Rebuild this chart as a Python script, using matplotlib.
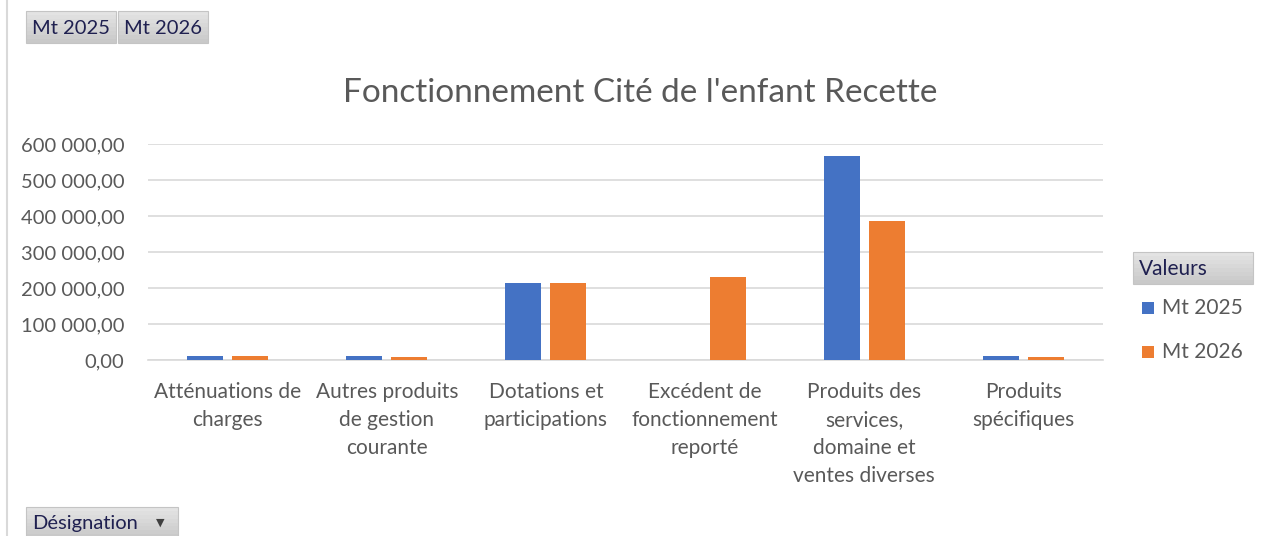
import matplotlib
matplotlib.use("Agg")
import matplotlib.pyplot as plt
from matplotlib.patches import Rectangle
from matplotlib.lines import Line2D
import numpy as np

categories = ["Atténuations de\ncharges", "Autres produits\nde gestion\ncourante",
              "Dotations et\nparticipations", "Excédent de\nfonctionnement\nreporté",
              "Produits des\nservices,\ndomaine et\nventes diverses", "Produits\nspécifiques"]
mt2025 = [12000, 12000, 213000, 0, 566000, 11000]
mt2026 = [12000, 7500, 213000, 230000, 387000, 7000]
series_names = ["Mt 2025", "Mt 2026"]
yticks = [0, 100000, 200000, 300000, 400000, 500000, 600000]
title = "Fonctionnement Cité de l'enfant Recette"

W, H = 1263, 536
plt.rcParams['font.family'] = ['Lato', 'DejaVu Sans']
fig = plt.figure(figsize=(W / 100, H / 100), dpi=100)
TXT = "#595959"

def fx(px):
    return px / W

def fy(py):
    return 1 - py / H

ax = fig.add_axes([fx(148), fy(360), fx(1103 - 148), (360 - 144) / H])
x = np.arange(len(categories))
bw = 0.226
off = 0.1415
ax.bar(x - off, mt2025, bw, color="#4472C4", zorder=3, label=series_names[0])
ax.bar(x + off, mt2026, bw, color="#ED7D31", zorder=3, label=series_names[1])
ax.set_xlim(-0.5, len(categories) - 0.5)
ax.set_ylim(0, 600000)
ax.set_yticks(yticks)
ax.set_yticklabels([f"{v:,.2f}".replace(",", " ").replace(".", ",") for v in yticks],
                   fontsize=14.5, color=TXT)
ax.yaxis.grid(True, color="#D9D9D9", linewidth=1.2, zorder=0)
ax.set_xticks(x)
ax.set_xticklabels(categories, fontsize=15, color=TXT, linespacing=1.5, va="top")
ax.tick_params(axis="both", length=0)
ax.tick_params(axis="y", pad=17)
ax.tick_params(axis="x", pad=16)
for s in ["top", "right", "left"]:
    ax.spines[s].set_visible(False)
ax.spines["bottom"].set_color("#D9D9D9")
ax.spines["bottom"].set_linewidth(1.2)

fig.text(fx(640), fy(93), title, fontsize=24, color=TXT, ha="center", va="center")

# left border line
fig.add_artist(Line2D([fx(7), fx(7)], [0, 1], color="#D9D9D9", linewidth=1.5))

def button(x0, y0, x1, y1, label, fs=14.5):
    n = 8
    top_c = np.array([0.89, 0.89, 0.89])
    bot_c = np.array([0.79, 0.79, 0.79])
    for k in range(n):
        c = top_c + (bot_c - top_c) * k / (n - 1)
        ya = y0 + (y1 - y0) * k / n
        yb = y0 + (y1 - y0) * (k + 1) / n
        fig.add_artist(Rectangle((fx(x0), fy(yb)), fx(x1 - x0), (yb - ya) / H,
                                 facecolor=tuple(c), edgecolor="none",
                                 transform=fig.transFigure))
    fig.add_artist(Rectangle((fx(x0), fy(y1)), fx(x1 - x0), (y1 - y0) / H,
                             facecolor="none", edgecolor="#C4C4C4", linewidth=0.8,
                             transform=fig.transFigure))
    fig.text(fx(x0 + 6), fy((y0 + y1) / 2 + 1), label, fontsize=fs, color="#1F2050",
             ha="left", va="center")

button(26, 11, 116, 43, "Mt 2025")
button(118, 11, 208, 43, "Mt 2026")
button(1133, 252, 1253, 284, "Valeurs", fs=15)
button(26, 507, 178, 538, "Désignation")
fig.text(fx(160), fy(523), "▼", fontsize=8, color="#404040", ha="center", va="center",
         family="DejaVu Sans")

# legend
for i, (name, col) in enumerate(zip(series_names, ["#4472C4", "#ED7D31"])):
    yc = 308 + i * 44
    fig.add_artist(Rectangle((fx(1142), fy(yc + 6)), fx(12), 12 / H, facecolor=col,
                             edgecolor="none", transform=fig.transFigure))
    fig.text(fx(1162), fy(yc), name, fontsize=15, color=TXT, ha="left", va="center")

fig.savefig("out.png", dpi=100, facecolor="white")
